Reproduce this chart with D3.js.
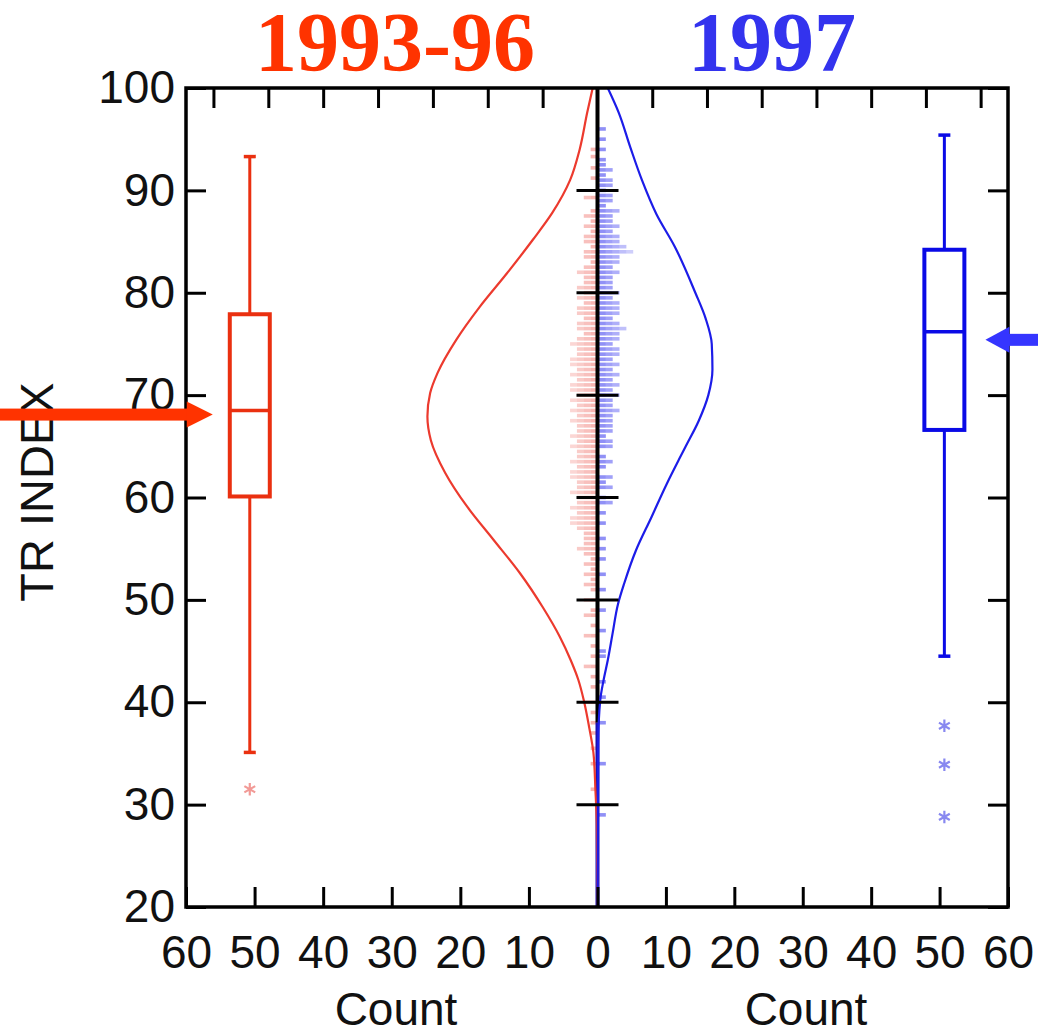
<!DOCTYPE html>
<html>
<head>
<meta charset="utf-8">
<script src="https://cdn.jsdelivr.net/npm/d3@7"></script>
<style>
  body { margin: 0; background: #fff; }
  svg { display: block; }
  .tick text { font-family: "Liberation Sans", Arial, sans-serif; fill: #111; }
</style>
</head>
<body>
<div id="chart"></div>
<script>
// values
var yTicks = [20, 30, 40, 50, 60, 70, 80, 90, 100];
var countTicks = [0, 10, 20, 30, 40, 50, 60];
var topTicks = [8, 16, 24, 32, 40, 48, 56];

// density curves: [TR index, count]
var redCurve = [[100, 0.7], [97.6, 1.5], [94, 2.6], [91, 4.0], [87.8, 6.6], [85.2, 9.4], [81.9, 13.2],
  [78.6, 17.2], [75.4, 20.6], [72.2, 23.3], [70.2, 24.4], [67.9, 24.8], [65.6, 24.3], [62.4, 22.2],
  [59.1, 19.0], [55.9, 15.2], [52.6, 11.3], [49.3, 8.0], [46.4, 5.5], [44.1, 3.9], [42.2, 2.8],
  [40.2, 2.0], [37.5, 1.2], [35.1, 0.6], [31.4, 0.3], [28, 0.1], [20, 0]];
var blueCurve = [[100, 1.5], [97.6, 3.1], [94.2, 4.8], [91, 6.5], [87.7, 8.6], [84.5, 11.3], [80, 14.3],
  [77.5, 15.8], [75, 16.7], [72.5, 16.8], [70, 16.2], [67.5, 14.8], [65, 12.9], [63.7, 11.9],
  [61.3, 10.1], [58.1, 7.9], [54.8, 5.6], [51.6, 3.9], [49.6, 3.0], [46.7, 2.2], [44.1, 1.5],
  [42.2, 0.9], [40.2, 0.4], [36, 0.1], [20, 0]];

// strip of observations: [TR index, number stacked]
var redStrip = [[94, 1], [93.3, 1], [92.2, 1], [91.2, 1], [89.3, 2], [88, 1], [87.5, 2], [87, 1], [86.5, 2],
  [86, 1], [85.5, 2], [85, 2], [84.5, 1], [84, 2], [83.5, 2], [83, 1], [82.5, 2], [82, 3], [81.5, 2],
  [81, 2], [80.5, 3], [80, 2], [79.5, 3], [79, 2], [78.5, 3], [78, 3], [77.5, 2], [77, 3], [76.5, 3],
  [76, 2], [75.5, 3], [75, 4], [74.5, 3], [74, 3], [73.5, 4], [73, 4], [72.5, 3], [72, 4], [71.5, 3],
  [71, 4], [70.5, 4], [70, 3], [69.5, 4], [69, 3], [68.5, 4], [68, 3], [67.5, 4], [67, 3], [66.5, 3],
  [66, 4], [65.5, 3], [65, 4], [64.5, 3], [64, 3], [63.5, 4], [63, 3], [62.5, 4], [62, 4], [61.5, 3],
  [61, 3], [60.5, 4], [60, 3], [59.5, 3], [59, 4], [58.5, 3], [58, 4], [57.5, 4], [57, 3], [56.5, 2],
  [56, 2], [55.5, 2], [55, 3], [54.5, 2], [54, 1], [53.5, 2], [53, 1], [52.5, 2], [52, 1], [51.5, 2],
  [51, 1], [50, 2], [49, 1], [48.5, 2], [47.5, 1], [46.5, 2], [45.5, 1], [44.5, 1], [43.5, 2],
  [42.5, 1], [41.5, 1], [40, 2], [39, 1], [38, 1], [37, 1], [35.5, 1], [34, 1], [31.5, 1]];
var blueStrip = [[96, 1], [95, 1], [94, 1], [93, 1], [92.5, 1], [92, 2], [91.5, 1], [91, 2], [90.5, 2],
  [90, 1], [89.5, 2], [89, 2], [88.5, 1], [88, 3], [87.5, 2], [87, 2], [86.5, 3], [86, 2], [85.5, 3],
  [85, 3], [84.5, 4], [84, 5], [83.5, 3], [83, 3], [82.5, 2], [82, 3], [81.5, 2], [81, 2], [80.5, 2],
  [80, 3], [79.5, 2], [79, 3], [78.5, 3], [78, 3], [77.5, 2], [77, 3], [76.5, 4], [76, 3], [75.5, 3],
  [75, 2], [74.5, 3], [74, 3], [73.5, 2], [73, 3], [72.5, 2], [72, 3], [71.5, 2], [71, 3], [70.5, 2],
  [70, 3], [69.5, 2], [69, 2], [68.5, 3], [68, 2], [67.5, 2], [67, 2], [66.5, 2], [66, 1], [65.5, 2],
  [65, 2], [64, 1], [63.5, 2], [63, 1], [62, 2], [61.5, 1], [61, 2], [60, 1], [59.5, 2], [58.5, 1],
  [57.5, 1], [56, 1], [55, 1], [54, 1], [52.5, 1], [51, 1], [49, 1], [47, 1], [45, 1], [44.5, 1],
  [42, 1], [40.5, 1], [38, 1], [34, 1], [29, 1]];

// box plots: [whisker low, Q1, median, Q3, whisker high]
var redBox = [35.1, 60.1, 68.5, 77.9, 93.3];
var blueBox = [44.5, 66.6, 76.2, 84.2, 95.4];
var redOutliers = [31.5];
var blueOutliers = [37.7, 33.9, 28.8];
var boxCount = 50.7;

// arrows pointing at the means
var redArrowAt = 68.1;
var blueArrowAt = 75.4;

var svgWidth = 1038;
var svgHeight = 1032;
var plot = { left: 186, right: 1008, top: 88, bottom: 907, mid: 597.5 };

var red = "#ff3300";

var svg = d3.select("#chart")
  .append("svg")
    .attr("width", svgWidth)
    .attr("height", svgHeight);

var y = d3.scaleLinear().domain([20, 100]).range([plot.bottom, plot.top]);
var xL = d3.scaleLinear().domain([0, 60]).range([plot.mid, plot.left]);
var xR = d3.scaleLinear().domain([0, 60]).range([plot.mid, plot.right]);

svg.append("clipPath").attr("id", "clip")
  .append("rect")
    .attr("x", plot.left).attr("y", plot.top)
    .attr("width", plot.right - plot.left).attr("height", plot.bottom - plot.top);

// titles
svg.append("text")
  .attr("x", 395).attr("y", 71)
  .attr("text-anchor", "middle")
  .attr("font-family", "Liberation Serif, Times New Roman, serif")
  .attr("font-weight", "bold")
  .attr("font-size", 84)
  .attr("fill", red)
  .text("1993-96");

svg.append("text")
  .attr("x", 772).attr("y", 71)
  .attr("text-anchor", "middle")
  .attr("font-family", "Liberation Serif, Times New Roman, serif")
  .attr("font-weight", "bold")
  .attr("font-size", 84)
  .attr("fill", "#3333ee")
  .text("1997");

var clipped = svg.append("g").attr("clip-path", "url(#clip)");

// strips
redStrip.forEach(function(d) {
  for (var i = 0; i < d[1]; i++) {
    clipped.append("rect")
      .attr("x", xL(i + 1))
      .attr("y", y(d[0]) - 1.8)
      .attr("width", xL(i) - xL(i + 1))
      .attr("height", 3.6)
      .attr("fill", "#e8261a")
      .attr("opacity", 0.34 - i * 0.05);
  }
});
blueStrip.forEach(function(d) {
  for (var i = 0; i < d[1]; i++) {
    clipped.append("rect")
      .attr("x", xR(i) + 1.5)
      .attr("y", y(d[0]) - 1.8)
      .attr("width", xR(i + 1) - xR(i))
      .attr("height", 3.6)
      .attr("fill", "#2222ee")
      .attr("opacity", 0.5 - i * 0.07);
  }
});

// centre line
clipped.append("line")
  .attr("x1", plot.mid).attr("x2", plot.mid)
  .attr("y1", y(100)).attr("y2", y(38))
  .attr("stroke", "#000").attr("stroke-width", 4);
clipped.append("line")
  .attr("x1", plot.mid).attr("x2", plot.mid)
  .attr("y1", y(38)).attr("y2", y(20))
  .attr("stroke", "#1a0fb0").attr("stroke-width", 4);

// density curves
var redLine = d3.line()
  .x(d => xL(d[1]))
  .y(d => y(d[0]))
  .curve(d3.curveMonotoneY);
var blueLine = d3.line()
  .x(d => xR(d[1]))
  .y(d => y(d[0]))
  .curve(d3.curveMonotoneY);

clipped.append("path")
  .datum(redCurve.slice().reverse())
  .attr("d", redLine)
  .attr("fill", "none")
  .attr("stroke", "#ec3a2e")
  .attr("stroke-width", 2.2);
clipped.append("path")
  .datum(blueCurve.slice().reverse())
  .attr("d", blueLine)
  .attr("fill", "none")
  .attr("stroke", "#1c1ce8")
  .attr("stroke-width", 2.2);

// centre ticks
yTicks.filter(v => v > 20 && v < 100).forEach(function(v) {
  svg.append("line")
    .attr("x1", plot.mid - 21).attr("x2", plot.mid + 21)
    .attr("y1", y(v)).attr("y2", y(v))
    .attr("stroke", "#000").attr("stroke-width", 3);
});

// box plots
function drawBox(b, cx, color, outliers, starColor) {
  var g = svg.append("g").attr("stroke", color).attr("fill", "none");
  var half = 20;
  g.append("line").attr("x1", cx).attr("x2", cx)
    .attr("y1", y(b[0])).attr("y2", y(b[1])).attr("stroke-width", 3);
  g.append("line").attr("x1", cx).attr("x2", cx)
    .attr("y1", y(b[3])).attr("y2", y(b[4])).attr("stroke-width", 3);
  [b[0], b[4]].forEach(function(v) {
    g.append("line").attr("x1", cx - 6).attr("x2", cx + 6)
      .attr("y1", y(v)).attr("y2", y(v)).attr("stroke-width", 3.5);
  });
  g.append("rect")
    .attr("x", cx - half).attr("y", y(b[3]))
    .attr("width", half * 2).attr("height", y(b[1]) - y(b[3]))
    .attr("stroke-width", 4);
  g.append("line").attr("x1", cx - half).attr("x2", cx + half)
    .attr("y1", y(b[2])).attr("y2", y(b[2])).attr("stroke-width", 3.5);
  outliers.forEach(function(v) {
    svg.append("path")
      .attr("d", d3.symbol().type(d3.symbolAsterisk).size(110)())
      .attr("transform", `translate(${cx}, ${y(v)})`)
      .attr("fill", "none")
      .attr("stroke", starColor)
      .attr("stroke-width", 2.2);
  });
}
drawBox(redBox, xL(boxCount), "#ea3010", redOutliers, "#f29a96");
drawBox(blueBox, xR(boxCount), "#0a0ae6", blueOutliers, "#8888f0");

// axes
var bottomLeft = d3.axisBottom(xL).tickValues(countTicks).tickSize(-20).tickPadding(28);
var bottomRight = d3.axisBottom(xR).tickValues(countTicks.slice(1)).tickSize(-20).tickPadding(28);
var leftAxis = d3.axisLeft(y).tickValues(yTicks).tickSize(-20).tickPadding(11);
var rightAxis = d3.axisRight(y).tickValues(yTicks).tickSize(-20).tickFormat("");
var topLeft = d3.axisTop(xL).tickValues(topTicks).tickSize(-20).tickFormat("");
var topRight = d3.axisTop(xR).tickValues(topTicks).tickSize(-20).tickFormat("");

function styleAxis(sel) {
  sel.select(".domain").remove();
  sel.selectAll(".tick line").attr("stroke", "#000").attr("stroke-width", 3);
  sel.selectAll(".tick text").attr("font-size", 46).attr("fill", "#111");
}

svg.append("g").attr("transform", `translate(0, ${plot.bottom})`).call(bottomLeft).call(styleAxis);
svg.append("g").attr("transform", `translate(0, ${plot.bottom})`).call(bottomRight).call(styleAxis);
svg.append("g").attr("transform", `translate(${plot.left}, 0)`).call(leftAxis).call(styleAxis);
svg.append("g").attr("transform", `translate(${plot.right}, 0)`).call(rightAxis).call(styleAxis);
svg.append("g").attr("transform", `translate(0, ${plot.top})`).call(topLeft).call(styleAxis);
svg.append("g").attr("transform", `translate(0, ${plot.top})`).call(topRight).call(styleAxis);

// frame
svg.append("rect")
  .attr("x", plot.left).attr("y", plot.top)
  .attr("width", plot.right - plot.left).attr("height", plot.bottom - plot.top)
  .attr("fill", "none").attr("stroke", "#000").attr("stroke-width", 3.5);

// axis titles
svg.append("text")
  .attr("x", 396).attr("y", 1025)
  .attr("text-anchor", "middle")
  .attr("font-family", "Liberation Sans, Arial, sans-serif")
  .attr("font-size", 46).attr("fill", "#111")
  .text("Count");
svg.append("text")
  .attr("x", 806).attr("y", 1025)
  .attr("text-anchor", "middle")
  .attr("font-family", "Liberation Sans, Arial, sans-serif")
  .attr("font-size", 46).attr("fill", "#111")
  .text("Count");
svg.append("text")
  .attr("transform", "translate(53, 492) rotate(-90)")
  .attr("text-anchor", "middle")
  .attr("font-family", "Liberation Sans, Arial, sans-serif")
  .attr("font-size", 47).attr("fill", "#111")
  .text("TR INDEX");

// arrows
var ry = y(redArrowAt);
var rTip = xL(56.1);
svg.append("rect")
  .attr("x", 0).attr("y", ry - 6)
  .attr("width", rTip - 24).attr("height", 12)
  .attr("fill", red);
svg.append("path")
  .attr("d", `M${rTip - 26},${ry - 13} L${rTip},${ry} L${rTip - 26},${ry + 13} Z`)
  .attr("fill", red);

var by = y(blueArrowAt);
var bTip = xR(56.7);
svg.append("rect")
  .attr("x", bTip + 22).attr("y", by - 6)
  .attr("width", svgWidth - bTip - 22).attr("height", 12)
  .attr("fill", "#3535ff");
svg.append("path")
  .attr("d", `M${bTip + 24},${by - 13} L${bTip},${by} L${bTip + 24},${by + 13} Z`)
  .attr("fill", "#3535ff");
</script>
</body>
</html>
